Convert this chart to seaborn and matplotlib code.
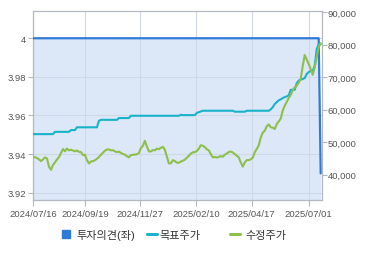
import numpy as np
import pandas as pd
import matplotlib
matplotlib.use("Agg")
import matplotlib.pyplot as plt
import seaborn as sns
from matplotlib.patches import Patch
from matplotlib.lines import Line2D

# ---------------- data ----------------
x_tick_labels = ["2024/07/16", "2024/09/19", "2024/11/27", "2025/02/10", "2025/04/17", "2025/07/01"]
x_tick_pos = [0, 26, 53.5, 81.5, 109.5, 138]

left_ticks = [3.92, 3.94, 3.96, 3.98, 4.0]
left_tick_labels = ["3.92", "3.94", "3.96", "3.98", "4"]
right_ticks = [40000, 50000, 60000, 70000, 80000, 90000]
right_tick_labels = ["40,000", "50,000", "60,000", "70,000", "80,000", "90,000"]

series_names = ["투자의견(좌)", "목표주가", "수정주가"]

opinion = [4.0] * 144 + [3.93]

target = [
    52500, 52500, 52500, 52500, 52500, 52500, 52500, 52500, 52500, 52500,
    52500, 53200, 53200, 53200, 53200, 53200, 53200, 53200, 53200, 53750,
    53750, 53750, 54600, 54600, 54600, 54600, 54600, 54600, 54600, 54600,
    54600, 54600, 54600, 56600, 56900, 56900, 56900, 56900, 56900, 56900,
    56900, 56900, 56900, 57450, 57450, 57450, 57450, 57450, 57450, 58150,
    58150, 58150, 58150, 58150, 58150, 58150, 58150, 58150, 58150, 58150,
    58150, 58150, 58150, 58150, 58150, 58150, 58150, 58150, 58150, 58150,
    58150, 58150, 58150, 58150, 58450, 58350, 58350, 58350, 58350, 58350,
    58350, 58350, 59050, 59250, 59500, 59700, 59700, 59700, 59700, 59700,
    59700, 59700, 59700, 59700, 59700, 59700, 59700, 59700, 59700, 59700,
    59700, 59400, 59400, 59400, 59400, 59400, 59400, 59700, 59700, 59700,
    59700, 59700, 59700, 59700, 59700, 59700, 59700, 59700, 59700, 60100,
    60800, 61750, 62350, 62900, 63200, 63600, 63900, 64100, 64450, 66150,
    66150, 66150, 68200, 69000, 69300, 69450, 69750, 71000, 71600, 71950,
    71950, 73500, 78650, 80200, 80200,
]

price = [
    45550, 45350, 45150, 44700, 44200, 44700, 45350, 45000, 42500, 41500,
    43000, 43800, 44700, 45450, 46700, 47900, 47200, 48050, 47500, 47700,
    47450, 47200, 47450, 47050, 47000, 46050, 46150, 44500, 43450, 44100,
    44150, 44500, 44900, 45450, 46150, 46800, 47400, 47750, 47800, 47500,
    47550, 47200, 46950, 47100, 46700, 46400, 46150, 45700, 45350, 46050,
    46150, 46200, 46300, 46700, 48200, 48900, 50450, 48700, 47200, 47150,
    47600, 47500, 48050, 47850, 48300, 48600, 47700, 45600, 43500, 43500,
    44500, 44200, 43700, 43700, 44050, 44300, 44650, 45250, 45800, 46500,
    46900, 46950, 47300, 48000, 49100, 48900, 48500, 47800, 47500, 46350,
    45350, 45450, 45300, 45450, 45750, 45550, 46200, 46500, 47000, 47150,
    46850, 46350, 45850, 45350, 43750, 42500, 43800, 44500, 44500, 44750,
    45300, 46900, 48000, 49050, 51450, 52950, 53550, 54900, 55500, 54600,
    54500, 54050, 55600, 56400, 57300, 59750, 61250, 62450, 63600, 64600,
    66050, 66900, 67450, 68300, 69550, 73450, 76850, 75450, 74050, 72500,
    70750, 73050, 76200, 79200, 80500,
]

df = pd.DataFrame({
    "idx": np.arange(len(opinion)),
    "opinion": opinion,
    "target": target,
    "price": price,
})

# ---------------- style ----------------
sns.set_theme(style="white")
plt.rcParams["font.family"] = ["Liberation Sans", "Noto Sans CJK KR", "DejaVu Sans"]

c_blue = "#2f7ad6"
c_fill = "#dce7f8"
c_teal = "#19b3c9"
c_green = "#8dbf4b"
c_grid = "#cfd9e6"
c_spine = "#b4b8be"
c_text = "#555555"

fig = plt.figure(figsize=(3.7, 2.55), dpi=100)
ax = fig.add_axes([33 / 370, (255 - 201) / 255, (321.5 - 33) / 370, (201 - 12.3) / 255])
ax2 = ax.twinx()

ymin_l, ymax_l = 3.91622, 4.01396
ax.set_xlim(0, 144.4)
ax.set_ylim(ymin_l, ymax_l)
ax2.set_ylim(32225, 90307)

# fill under the opinion line
ax.fill_between(df["idx"], df["opinion"], ymin_l, color=c_fill, zorder=0.2, linewidth=0)
ax.set_axisbelow(True)
ax.grid(True, color=c_grid, linewidth=0.8, zorder=0.5)

sns.lineplot(data=df, x="idx", y="opinion", ax=ax, color=c_blue, linewidth=1.6,
             legend=False, zorder=3)
sns.lineplot(data=df, x="idx", y="target", ax=ax2, color=c_teal, linewidth=1.5,
             legend=False)
sns.lineplot(data=df, x="idx", y="price", ax=ax2, color=c_green, linewidth=1.5,
             legend=False)

for a in (ax, ax2):
    a.set_xlabel("")
    a.set_ylabel("")
for name, s in ax.spines.items():
    s.set_color(c_spine)
    s.set_linewidth(0.9)
    s.set_visible(name != "right")
for name, s in ax2.spines.items():
    s.set_color(c_spine)
    s.set_linewidth(0.9)
    s.set_visible(name == "right")

ax.set_xticks(x_tick_pos)
ax.set_xticklabels(x_tick_labels)
ax.set_yticks(left_ticks)
ax.set_yticklabels(left_tick_labels)
ax2.set_yticks(right_ticks)
ax2.set_yticklabels(right_tick_labels)
ax2.grid(False)

ax.tick_params(axis="x", direction="out", length=4, width=0.8, color=c_spine,
               labelsize=6.8, labelcolor=c_text, pad=2.5, bottom=True)
ax.tick_params(axis="y", direction="out", length=3.5, width=0.8, color=c_spine,
               labelsize=6.8, labelcolor=c_text, pad=1.2, left=True)
ax2.tick_params(axis="y", direction="out", length=3.5, width=0.8, color=c_spine,
                labelsize=6.8, labelcolor=c_text, pad=1.0, right=True)

# ---------------- legend ----------------
handles = [
    Patch(facecolor=c_blue, edgecolor=c_blue),
    Line2D([0], [0], color=c_teal, linewidth=2.2),
    Line2D([0], [0], color=c_green, linewidth=2.2),
]
leg_x = [62 / 370, 146.5 / 370, 230 / 370]
leg_hl = [0.75, 0.9, 0.9]
leg_pad = [0.55, 0.3, 0.45]
for h, name, lx, hl, tp in zip(handles, series_names, leg_x, leg_hl, leg_pad):
    fig.legend([h], [name], loc="center left", bbox_to_anchor=(lx, 1 - 235.5 / 255),
               frameon=False, fontsize=8, handlelength=hl, handleheight=0.75,
               handletextpad=tp, borderpad=0, borderaxespad=0, labelcolor="#333333")

fig.savefig("out.png", dpi=100)
